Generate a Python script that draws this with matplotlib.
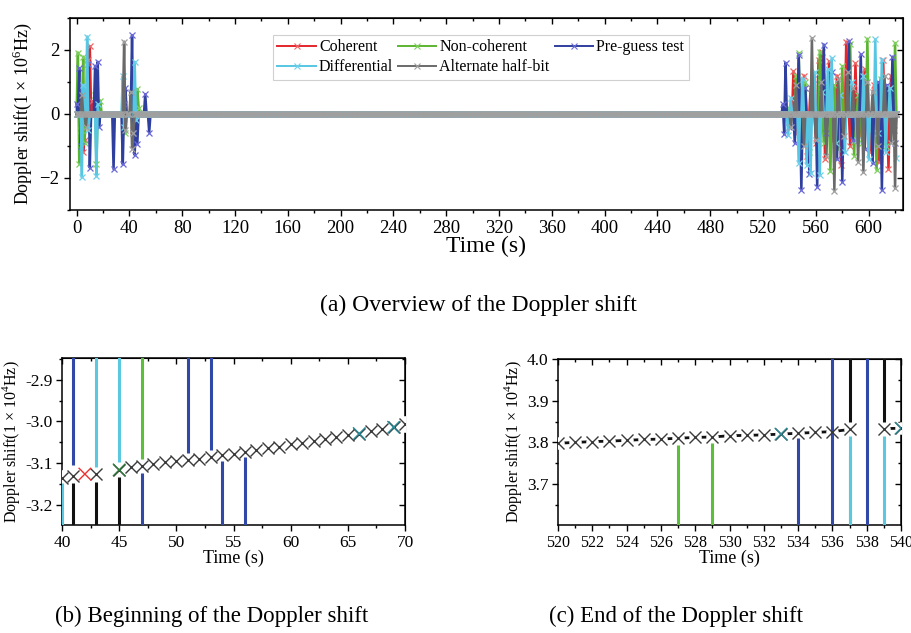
import numpy as np
import matplotlib.pyplot as plt
from matplotlib.ticker import MultipleLocator, NullFormatter
from matplotlib.lines import Line2D

plt.rcParams['font.family'] = ['Liberation Serif', 'DejaVu Serif']
plt.rcParams['mathtext.fontset'] = 'custom'
plt.rcParams['mathtext.rm'] = 'Liberation Serif'

# ---------------- (a) overview, Doppler shift in 1e6 Hz, one sample per second
t_all = np.arange(0, 622)
base_level = 0.0   # steady Doppler shift, ~0 at this scale

coh_spikes = {3: 0.5, 5: -1.18, 6: -0.82, 9: 1.7, 10: 2.12, 12: 0.4, 43: -0.5, 44: 0.4,
              543: 1.33, 546: -0.6, 551: 1.2, 553: -1.3, 556: 0.8, 560: -0.9, 562: 1.69,
              565: 1.95, 567: -1.4, 570: 1.65, 573: -0.8, 576: 1.2, 579: -1.6, 583: 2.26,
              586: -1.0, 590: 1.58, 593: -0.7, 597: 1.4, 601: -1.2, 604: 0.9, 608: -1.5,
              611: 1.69, 615: -1.73, 617: 1.2, 619: -0.5}
noncoh_spikes = {1: 1.92, 2: -1.55, 3: -0.5, 5: 1.79, 6: -0.9, 14: 0.6, 15: -1.55, 18: 0.42,
                 36: -0.3, 37: -0.6, 46: 0.78, 47: 0.2,
                 538: 0.2, 545: 1.2, 547: 1.9, 549: -0.8, 552: 1.0, 555: -1.2, 558: 0.8,
                 563: 1.95, 566: -0.9, 571: -1.79, 574: 0.9, 577: -1.1, 580: 1.5, 586: 2.2,
                 589: -1.3, 592: 0.6, 595: -0.9, 599: 2.35, 602: -0.5, 606: -1.75, 609: 1.1,
                 613: -1.0, 617: 0.6, 620: 2.22}
preguess_spikes = {0: 0.31, 2: 1.43, 3: -1.0, 9: 1.55, 10: -1.68, 14: 1.5, 16: 1.63, 17: -0.4,
                   28: -1.72, 35: -1.57, 36: 0.3, 37: 0.8, 42: 2.46, 43: -0.6, 44: -1.28,
                   46: -0.93, 52: 0.62, 55: -0.58,
                   535: 0.3, 536: -0.63, 537: 1.6, 540: -0.4, 544: -0.9, 547: 1.84, 549: -2.36,
                   552: 0.8, 555: -1.87, 558: 1.1, 561: -2.27, 566: 2.17, 568: -0.6, 572: 1.3,
                   576: -1.4, 580: -2.12, 585: 2.27, 588: -0.8, 594: 1.86, 597: -1.1,
                   603: -1.54, 607: 1.0, 610: -2.37, 614: 0.9, 618: 1.79, 620: -0.9}
diff_spikes = {4: -1.98, 5: 0.9, 8: 2.42, 9: -0.5, 15: -1.94, 16: 0.3, 35: 1.18, 36: -0.4,
               44: 1.63, 45: -0.2,
               539: -0.66, 541: 0.5, 547: -1.53, 550: 1.1, 553: -1.58, 556: -1.85, 559: 1.3,
               563: -1.9, 565: 0.7, 569: 1.4, 572: 1.75, 575: -0.9, 578: 0.6, 582: -1.2,
               587: 1.0, 591: -0.8, 596: 1.2, 600: -1.4, 605: 2.33, 607: -0.6, 610: 1.7,
               613: -1.2, 616: 0.8, 621: -1.37}
half_spikes = {4: 0.6, 7: -0.4, 36: 2.26, 37: -0.5, 41: 0.7, 42: -1.08, 43: -0.6,
               541: -0.4, 545: 0.9, 551: -1.0, 557: 2.37, 560: -0.8, 564: 1.0, 568: -1.3,
               574: -2.4, 577: 1.1, 581: -0.7, 584: 1.3, 588: 0.8, 592: -1.5, 596: -1.82,
               599: 1.0, 603: 0.7, 607: -1.0, 612: 1.2, 617: -0.9, 620: -2.32}

names = ['Coherent', 'Non-coherent', 'Pre-guess test', 'Differential', 'Alternate half-bit']
spikes = [coh_spikes, noncoh_spikes, preguess_spikes, diff_spikes, half_spikes]
line_cols = ['#e3262c', '#5cb531', '#2f3f9e', '#56c6e3', '#6a6a6a']
mark_cols = ['#f06868', '#80cf60', '#6a6ad8', '#70d0ea', '#a0a0a0']

# ---------------- (b) beginning, 1e4 Hz
b_t = np.arange(40, 71)
b_half = [-3.136, -3.130, np.nan, -3.126, np.nan, -3.116, -3.110, -3.106, -3.102, -3.098,
          -3.095, -3.092, -3.089, -3.084, -3.080, -3.077, -3.073, -3.068, -3.064, -3.060,
          -3.055, -3.051, -3.047, -3.042, -3.038, -3.033, -3.029, -3.024, -3.018, -3.014,
          -3.006]
b_other_t = [42, 45, 66, 69]
b_other_v = [-3.126, -3.116, -3.029, -3.014]
b_other_c = ['#ee3030', '#2f7d3a', '#2a8a96', '#2a8a96']
# vertical excursions: time, last on-scale value, off-scale value
b_pre = ([41, 51, 53, 47, 54, 56], [-3.104, -3.076, -3.068, -3.124, -3.094, -3.084],
         [-2.0, -2.0, -2.0, -4.0, -4.0, -4.0])
b_diff = ([43, 45, 40], [-3.108, -3.098, -3.148], [-2.0, -2.0, -4.0])
b_noncoh = ([47], [-3.090], [-2.0])
b_alt = ([41, 43, 45], [-3.148, -3.144, -3.132], [-4.0, -4.0, -4.0])

# ---------------- (c) end, 1e4 Hz
c_t = np.arange(520, 541)
c_half = [3.798, 3.800, 3.802, 3.803, 3.805, 3.807, 3.808, 3.810, 3.812, 3.813, 3.816,
          3.817, 3.818, 3.820, 3.822, 3.824, 3.826, 3.831, np.nan, 3.833, 3.834]
c_other_t = [533, 540]
c_other_v = [3.820, 3.834]
c_other_c = ['#2a8a96', '#2a8a96']
c_pre = ([534, 536, 536, 538, 538], [3.810, 3.5, 3.5, 3.5, 3.5], [3.0, 5.0, 3.0, 5.0, 3.0])
c_noncoh = ([527, 529, 537.05], [3.795, 3.798, 3.77], [3.0, 3.0, 3.0])
c_diff = ([537, 539], [3.816, 3.816], [3.0, 3.0])
c_alt = ([537, 539], [3.848, 3.850], [5.0, 5.0])

W, H = 912, 633
fig = plt.figure(figsize=(W / 100, H / 100), dpi=100)


def frame(ax, xmaj, xmin, ymaj, ymin, fs, maj_len, min_len):
    # Origin look: outer ticks bottom/left, inner ticks top/right
    for s in ax.spines.values():
        s.set_linewidth(1.1)
    ax.xaxis.set_major_locator(MultipleLocator(xmaj))
    ax.xaxis.set_minor_locator(MultipleLocator(xmin))
    ax.yaxis.set_major_locator(MultipleLocator(ymaj))
    ax.yaxis.set_minor_locator(MultipleLocator(ymin))
    ax.tick_params(which='both', direction='out', labelsize=fs, width=1.0, pad=3)
    ax.tick_params(which='major', length=maj_len)
    ax.tick_params(which='minor', length=min_len)
    top = ax.secondary_xaxis('top')
    right = ax.secondary_yaxis('right')
    for sec, axis in ((top, top.xaxis), (right, right.yaxis)):
        axis.set_major_locator(MultipleLocator(xmaj if sec is top else ymaj))
        axis.set_minor_locator(MultipleLocator(xmin if sec is top else ymin))
        axis.set_major_formatter(NullFormatter())
        sec.tick_params(which='both', direction='in', width=1.0)
        sec.tick_params(which='major', length=maj_len)
        sec.tick_params(which='minor', length=min_len)


# ---- (a)
axa = fig.add_axes([70 / W, 1 - 210 / H, 833 / W, 192 / H])
handles = []
for nm, sp, lc, mc in zip(names, spikes, line_cols, mark_cols):
    v = np.full(len(t_all), base_level)
    for k, val in sp.items():
        v[k] = val
    axa.plot(t_all, v, color=lc, lw=1.8, marker='x', ms=5, mec=mc, mew=0.9)
    handles.append(Line2D([], [], color=lc, lw=1.4, marker='x', ms=4, mec=mc, mew=0.8))
axa.set_xlim(-5, 626)
axa.set_ylim(-3, 3)
frame(axa, 40, 20, 2, 1, 13.5, 4.5, 2.5)
axa.set_xlabel('Time (s)', fontsize=17, labelpad=-1)
axa.set_ylabel('Doppler shift(1 × 10$^6$Hz)', fontsize=13, labelpad=4)
order = [0, 3, 1, 4, 2]
leg = axa.legend([handles[i] for i in order], [names[i] for i in order], ncol=3,
                 loc='upper center', bbox_to_anchor=(0.493, 0.955), fontsize=11.5,
                 handlelength=2.4, handletextpad=0.2, columnspacing=0.3,
                 labelspacing=0.25, borderpad=0.3, fancybox=False, framealpha=1)
leg.get_frame().set_edgecolor('#d0d0d0')
leg.get_frame().set_linewidth(0.8)


def small_panel(ax, t, half, other_t, other_v, other_c, segs, halo_ms):
    for (tt, y0, y1), col in segs:
        ax.vlines(tt, y0, y1, colors=col, lw=2.2, zorder=3.5)
    ax.plot(t, half, color='#111111', lw=2.0, zorder=2)
    ax.plot(t, half, ls='none', marker='o', ms=halo_ms, mfc='white', mec='none', zorder=3)
    ax.plot(t, half, ls='none', marker='x', ms=9, mec='#3a3a3a', mew=1.0, zorder=4)
    ax.scatter(other_t, other_v, marker='x', s=81, c=other_c, linewidths=1.0, zorder=5)


# ---- (b)
axb = fig.add_axes([62 / W, 1 - 525 / H, 343 / W, 167 / H])
small_panel(axb, b_t, b_half, b_other_t, b_other_v, b_other_c,
            [(b_noncoh, '#5cbf3a'), (b_pre, '#3048a8'), (b_diff, '#5cc8e0'), (b_alt, '#111111')],
            12)
axb.set_xlim(40, 70)
axb.set_ylim(-3.248, -2.848)
frame(axb, 5, 2.5, 0.1, 0.05, 12.5, 4, 2.2)
axb.yaxis.set_major_formatter(lambda v, p: f'{v:.1f}')
axb.set_xlabel('Time (s)', fontsize=13, labelpad=-1)
axb.set_ylabel('Doppler shift(1 × 10$^4$Hz)', fontsize=11.5, labelpad=2)

# ---- (c)
axc = fig.add_axes([558 / W, 1 - 525 / H, 343 / W, 166 / H])
small_panel(axc, c_t, c_half, c_other_t, c_other_v, c_other_c,
            [(c_noncoh, '#5cbf3a'), (c_pre, '#3048a8'), (c_diff, '#5cc8e0'), (c_alt, '#111111')],
            9)
axc.set_xlim(520, 540)
axc.set_ylim(3.602, 4.0)
frame(axc, 2, 1, 0.1, 0.05, 12.5, 4, 2.2)
axc.tick_params(axis='x', labelsize=11.5)
axc.yaxis.set_major_formatter(lambda v, p: f'{v:.1f}')
axc.set_xlabel('Time (s)', fontsize=13, labelpad=-1)
axc.set_ylabel('Doppler shift(1 × 10$^4$Hz)', fontsize=11.5, labelpad=2)

fig.text(478 / W, 1 - 305 / H, '(a) Overview of the Doppler shift', ha='center', va='center',
         fontsize=17)
fig.text(212 / W, 1 - 616 / H, '(b) Beginning of the Doppler shift', ha='center',
         va='center', fontsize=16.5)
fig.text(676 / W, 1 - 616 / H, '(c) End of the Doppler shift', ha='center', va='center',
         fontsize=16.5)

fig.savefig('out.png', dpi=100)
